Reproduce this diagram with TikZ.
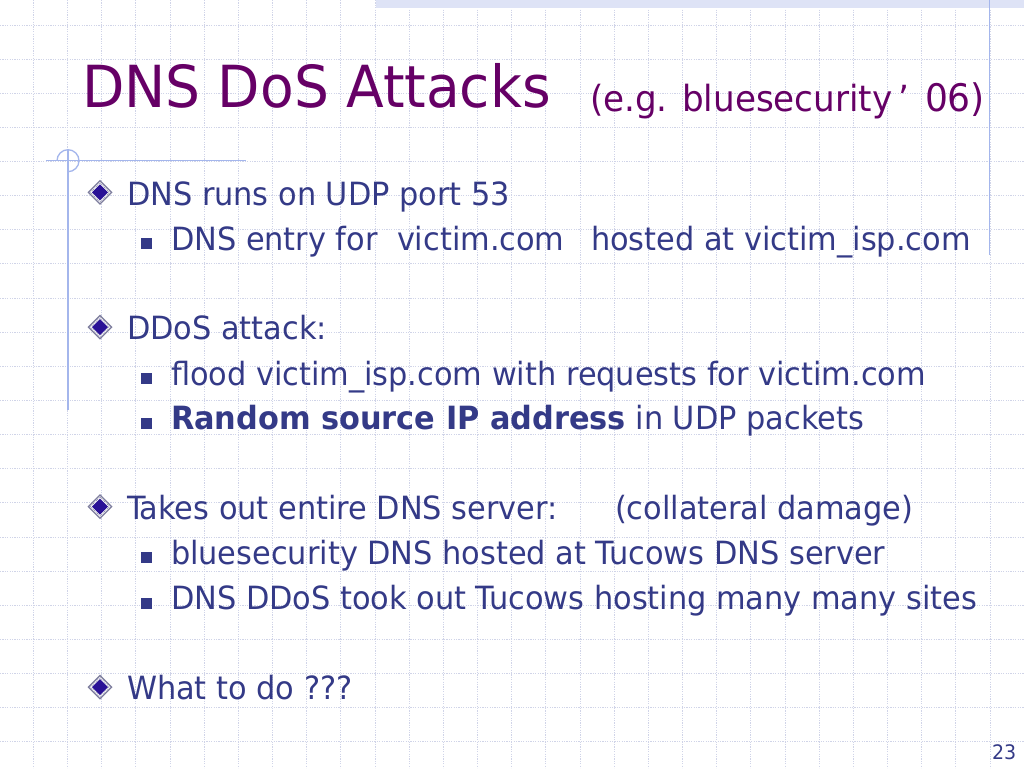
\documentclass[tikz,border=0pt]{standalone}
\usepackage{fontspec}
\setmainfont[FakeStretch=1.055]{DejaVu Sans Condensed}
\definecolor{gridc}{HTML}{D0D4E8}
\definecolor{linec}{HTML}{A4B6EC}
\definecolor{titlec}{HTML}{660066}
\definecolor{textc}{HTML}{343A87}
\definecolor{bandc}{HTML}{DEE3F6}
\definecolor{bulc}{HTML}{2A1296}
\definecolor{bulrim}{HTML}{7C7C9C}
\tikzset{
  gridline/.style={gridc, line width=0.9pt, dash pattern=on 1.2pt off 1.2pt},
  deco/.style={linec, line width=1.3pt},
  titletxt/.style={anchor=base west, inner sep=0, outer sep=0, text=titlec, font=\fontsize{58}{70}\selectfont},
  subtxt/.style={anchor=base west, inner sep=0, outer sep=0, text=titlec, font=\fontsize{36}{42}\selectfont},
  txt/.style={anchor=base west, inner sep=0, outer sep=0, text=textc, font=\fontsize{32}{38}\selectfont},
  pagetxt/.style={anchor=base west, inner sep=0, outer sep=0, text=textc, font=\fontsize{20}{24}\selectfont},
  dbullet/.pic={
    \fill[bulrim] (0,-12.5) -- (12.5,0) -- (0,12.5) -- (-12.5,0) -- cycle;
    \fill[white] (0,-10.5) -- (10.5,0) -- (0,10.5) -- (-10.5,0) -- cycle;
    \draw[bulrim, line width=0.6pt, dash pattern=on 1pt off 1pt] (0,-9.5) -- (9.5,0) -- (0,9.5) -- (-9.5,0) -- cycle;
    \fill[bulc] (0,-8) -- (8,0) -- (0,8) -- (-8,0) -- cycle;
  },
  sbullet/.pic={
    \fill[textc] (-5.5,-5.5) rectangle (5.5,5.5);
  }
}
\begin{document}
\begin{tikzpicture}[x=1pt,y=-1pt]
\useasboundingbox (0,0) rectangle (1024,768);
\fill[white] (0,0) rectangle (1024,768);
% grid
\foreach \k in {0,...,29} \draw[gridline] ({33.3+34.17*\k},0) -- ({33.3+34.17*\k},768);
\foreach \k in {0,...,21} \draw[gridline] (0,{25+34.13*\k}) -- (1024,{25+34.13*\k});
% top band
\fill[bandc] (376,0) rectangle (1024,8);
% decorative lines
\draw[deco] (989.5,0) -- (989.5,255);
\draw[deco] (46,160.7) -- (246,160.7);
\draw[deco] (68,149) -- (68,410);
\begin{scope}
\clip (50,140) -- (90,140) -- (90,180) -- (68,180) -- (68,160.7) -- (50,160.7) -- cycle;
\draw[deco] (68,160.7) circle[radius=11];
\end{scope}
% title
\node[titletxt] (title) at (82,107) {DNS DoS Attacks};
\node[subtxt] (sub1) at (590,111) {(e.g. bluesecurity};
\node[subtxt] (sub2) at (898,111) {’};
\node[subtxt, font=\fontsize{38}{44}\selectfont] (sub3) at (925,111) {06)};
% bullets and text
\pic at (100,192.3) {dbullet};
\node[txt] (l1) at (127,205) {DNS runs on UDP port 53};
\pic at (146,243.3) {sbullet};
\node[txt] (l2a) at (171,250) {DNS entry for};
\node[txt] (l2b) at (397,250) {victim.com};
\node[txt] (l2c) at (591,250) {hosted at victim\_isp.com};

\pic at (100,327) {dbullet};
\node[txt] (l3) at (127,339.5) {DDoS attack:};
\pic at (146,378.5) {sbullet};
\node[txt] (l4) at (171,385) {flood victim\_isp.com with requests for victim.com};
\pic at (146,423) {sbullet};
\node[txt] (l5) at (171,429.5) {\textbf{Random source IP address} in UDP packets};

\pic at (100,506.5) {dbullet};
\node[txt] (l6a) at (127,519) {Takes out entire DNS server:};
\node[txt] (l6b) at (615,519) {(collateral damage)};
\pic at (146,557.5) {sbullet};
\node[txt] (l7) at (171,564) {bluesecurity DNS hosted at Tucows DNS server};
\pic at (146,603) {sbullet};
\node[txt] (l8) at (171,609.5) {DNS DDoS took out Tucows hosting many many sites};

\pic at (100,687) {dbullet};
\node[txt] (l9) at (127,699.5) {What to do ???};

\node[pagetxt] (pg) at (992,759) {23};
\end{tikzpicture}
\end{document}
